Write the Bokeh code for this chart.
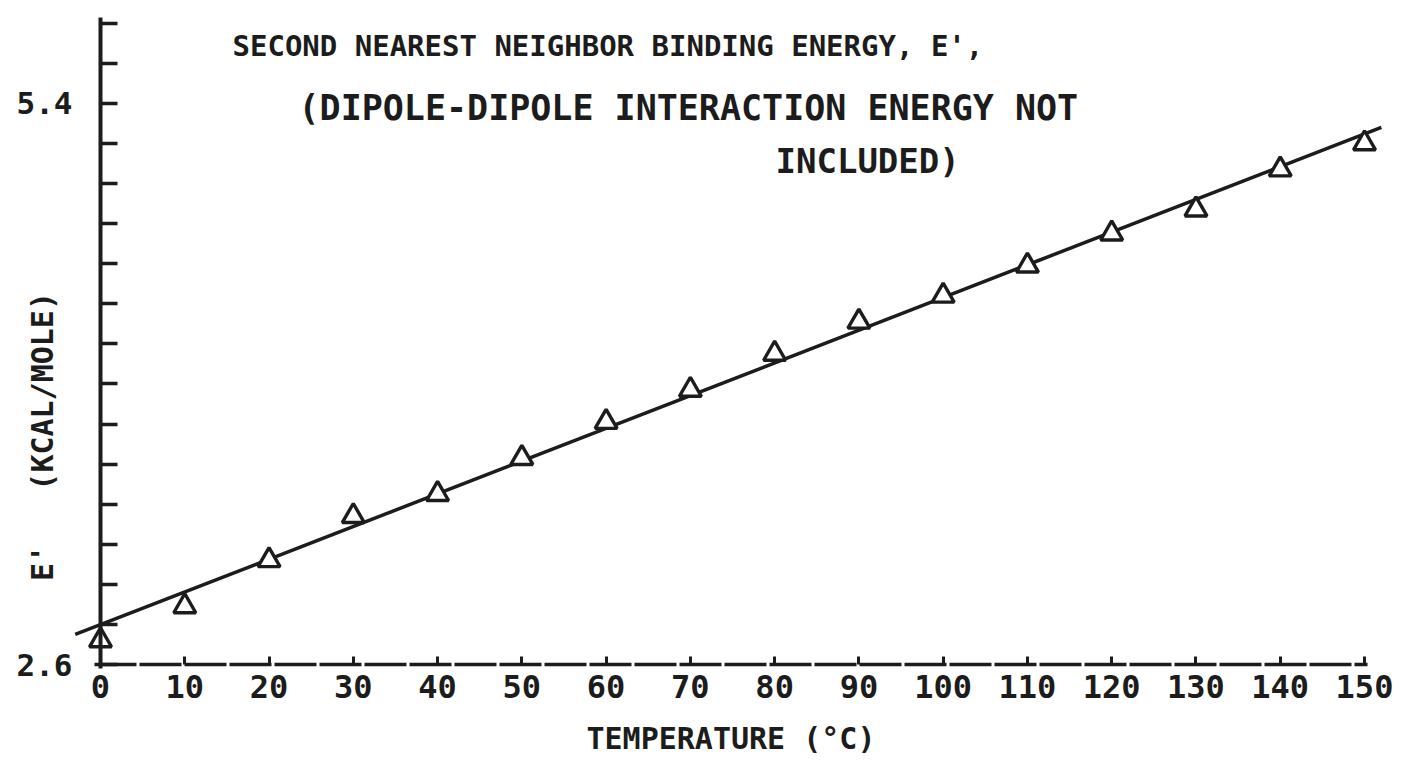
import math
from bokeh.plotting import figure
from bokeh.models import Range1d, FixedTicker, Label
from bokeh.embed import file_html
from bokeh.resources import INLINE

# ---- data ----
temperature = [0, 10, 20, 30, 40, 50, 60, 70, 80, 90, 100, 110, 120, 130, 140, 150]
energy = [2.72, 2.89, 3.12, 3.34, 3.45, 3.63, 3.81, 3.97, 4.15, 4.31, 4.44, 4.59, 4.75, 4.87, 5.07, 5.20]
fit_temperature = [-3, 152]
fit_energy = [2.75, 5.28]

x_ticks = [0, 10, 20, 30, 40, 50, 60, 70, 80, 90, 100, 110, 120, 130, 140, 150]
y_ticks = [2.6, 2.8, 3.0, 3.2, 3.4, 3.6, 3.8, 4.0, 4.2, 4.4, 4.6, 4.8, 5.0, 5.2, 5.4, 5.6, 5.8]
y_tick_labels = {2.6: "2.6", 5.4: "5.4"}

title_lines = [
    "SECOND NEAREST NEIGHBOR BINDING ENERGY, E',",
    "(DIPOLE-DIPOLE INTERACTION ENERGY NOT",
    "INCLUDED)",
]
x_label = "TEMPERATURE (°C)"
y_label = "E'\u00a0\u00a0\u00a0(KCAL/MOLE)"

FONT = "DejaVu Sans Mono"
INK = "#1c1c1c"

W, H = 1411, 761
X0PX, Y0PX = 100, 664   # pixel position of (0 °C, 2.6)
kx = 8.4267             # px per degree
ky = 200.4              # px per kcal/mole


def dx(px):
    return (px - X0PX) / kx


def dy(py):
    return 2.6 + (Y0PX - py) / ky


p = figure(width=W, height=H, output_backend="svg", toolbar_location=None,
           x_range=Range1d(dx(0), dx(W)), y_range=Range1d(dy(H), dy(0)),
           min_border=0)
p.background_fill_color = "white"
p.border_fill_color = "white"
p.outline_line_color = None
p.grid.visible = False

# x axis
xa = p.xaxis[0]
xa.fixed_location = 2.6
xa.bounds = (dx(94), 150.3)
xa.ticker = FixedTicker(ticks=x_ticks)
xa.major_tick_in = 8
xa.major_tick_out = 0
xa.minor_tick_line_color = None
xa.axis_line_width = 3.5
xa.axis_line_color = INK
xa.axis_line_dash = "42 3"
xa.major_tick_line_width = 3
xa.major_tick_line_color = INK
xa.major_label_text_font = FONT
xa.major_label_text_font_style = "bold"
xa.major_label_text_font_size = "32px"
xa.major_label_text_color = INK
xa.major_label_standoff = 10
xa.axis_label = x_label
xa.axis_label_text_font = FONT
xa.axis_label_text_font_style = "bold"
xa.axis_label_text_font_size = "30px"
xa.axis_label_text_color = INK
xa.axis_label_standoff = 20

# y axis
ya = p.yaxis[0]
ya.fixed_location = 0
ya.bounds = (dy(668), dy(17))
ya.ticker = FixedTicker(ticks=y_ticks)
ya.major_label_overrides = {t: y_tick_labels.get(t, "") for t in y_ticks}
ya.major_tick_in = 17
ya.major_tick_out = 0
ya.minor_tick_line_color = None
ya.axis_line_width = 4
ya.axis_line_color = INK
ya.major_tick_line_width = 3.5
ya.major_tick_line_color = INK
ya.major_label_text_font = FONT
ya.major_label_text_font_style = "bold"
ya.major_label_text_font_size = "31px"
ya.major_label_text_color = INK
ya.major_label_standoff = 28

# data
p.line(fit_temperature, fit_energy, line_color=INK, line_width=3.5)
p.scatter(temperature, energy, marker="triangle", size=22,
          fill_color="white", line_color=INK, line_width=3.4)

# title text block
title_pos = [(232, 45, "29px"), (298, 107, "35px"), (775, 160, "34px")]
for txt, (px, py, fs) in zip(title_lines, title_pos):
    p.add_layout(Label(x=dx(px), y=dy(py), text=txt,
                       text_font=FONT, text_font_style="bold", text_font_size=fs,
                       text_color=INK, text_align="left", text_baseline="middle"))

# y label (rotated)
p.add_layout(Label(x=dx(42), y=dy(436), text=y_label,
                   angle=math.pi / 2, text_font=FONT, text_font_style="bold",
                   text_font_size="30px", text_color=INK,
                   text_align="center", text_baseline="middle"))

open("out.html", "w").write(file_html(p, INLINE))
